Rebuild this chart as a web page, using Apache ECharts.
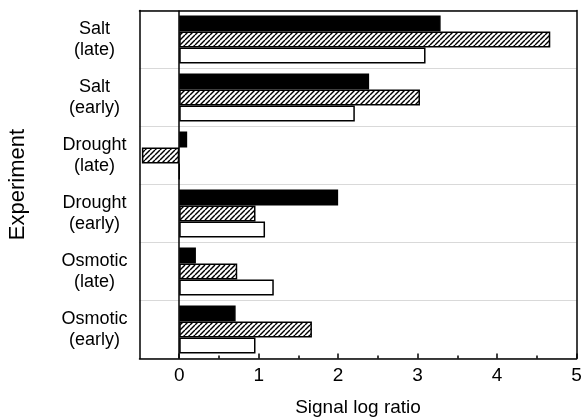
<!DOCTYPE html>
<html>
<head>
<meta charset="utf-8">
<script src="https://cdn.jsdelivr.net/npm/echarts@6/dist/echarts.min.js"></script>
<style>html,body{margin:0;padding:0;background:#fff}#c{width:586px;height:420px}</style>
</head>
<body>
<div id="c"></div>
<script>
// Categories bottom -> top
var categories = ['Osmotic\n(early)', 'Osmotic\n(late)', 'Drought\n(early)', 'Drought\n(late)', 'Salt\n(early)', 'Salt\n(late)'];
var blackValues   = [0.71, 0.21, 2.00, 0.10, 2.39, 3.29];
var hatchedValues = [1.67, 0.73, 0.96, -0.47, 3.03, 4.67];
var whiteValues   = [0.96, 1.19, 1.08, 0.00, 2.21, 3.10];
var majorTicks = [0, 1, 2, 3, 4, 5];
var minorTicks = [0.5, 1.5, 2.5, 3.5, 4.5];

var FONT = '"Liberation Sans", Arial, sans-serif';

function hatch() {
  var s = 5;
  var cv = document.createElement('canvas');
  cv.width = s; cv.height = s;
  var ctx = cv.getContext('2d');
  ctx.fillStyle = '#fff';
  ctx.fillRect(0, 0, s, s);
  ctx.strokeStyle = '#000';
  ctx.lineWidth = 1.4;
  [-s, 0, s].forEach(function (o) {
    ctx.beginPath();
    ctx.moveTo(o, s);
    ctx.lineTo(o + s, 0);
    ctx.stroke();
  });
  return cv;
}

var chart = echarts.init(document.getElementById('c'), null, {renderer: 'canvas'});
var barCommon = {
  type: 'bar',
  barWidth: 16,
  barGap: '0%',
  yAxisIndex: 0,
  xAxisIndex: 0
};
var frameLine = {show: true, onZero: false, lineStyle: {color: '#000', width: 1.5}};
chart.setOption({
  animation: false,
  textStyle: {fontFamily: FONT},
  grid: {
    left: 139.5, right: 9.5, top: 10.5, bottom: 61.5,
    outerBoundsMode: 'none',
    containLabel: false
  },
  xAxis: [{
    type: 'value',
    position: 'bottom',
    min: -0.5, max: 5, interval: 0.5,
    axisLine: frameLine,
    axisTick: {show: true, inside: true, length: 5, customValues: majorTicks, lineStyle: {color: '#000', width: 1.5}},
    axisLabel: {show: true, customValues: majorTicks, color: '#000', fontSize: 19, fontFamily: FONT, margin: 8},
    splitLine: {show: false},
    name: 'Signal log ratio',
    nameLocation: 'middle',
    nameGap: 40,
    nameTextStyle: {color: '#000', fontSize: 19, fontFamily: FONT}
  }, {
    type: 'value',
    position: 'bottom',
    min: -0.5, max: 5, interval: 0.5,
    axisLine: {show: false},
    axisTick: {show: true, inside: true, length: 3, customValues: minorTicks, lineStyle: {color: '#000', width: 1.5}},
    axisLabel: {show: false},
    splitLine: {show: false}
  }, {
    type: 'value',
    position: 'top',
    min: -0.5, max: 5, interval: 0.5,
    axisLine: frameLine,
    axisTick: {show: false},
    axisLabel: {show: false},
    splitLine: {show: false}
  }],
  yAxis: [{
    type: 'category',
    position: 'left',
    data: categories,
    axisLine: frameLine,
    axisTick: {show: false},
    axisLabel: {color: '#000', fontSize: 18, fontFamily: FONT, align: 'center', margin: 45, lineHeight: 21},
    splitLine: {show: true, lineStyle: {color: '#d9d9d9', width: 1}},
    name: 'Experiment',
    nameLocation: 'middle',
    nameRotate: 90,
    nameGap: 111,
    nameTextStyle: {color: '#000', fontSize: 22, fontFamily: FONT}
  }, {
    type: 'category',
    position: 'right',
    data: categories,
    axisLine: frameLine,
    axisTick: {show: false},
    axisLabel: {show: false},
    splitLine: {show: false}
  }],
  series: [
    Object.assign({}, barCommon, {
      name: 'black', data: blackValues,
      itemStyle: {color: '#000', borderColor: '#000', borderWidth: 1.5}
    }),
    Object.assign({}, barCommon, {
      name: 'hatched', data: hatchedValues,
      itemStyle: {color: {image: hatch(), repeat: 'repeat'}, borderColor: '#000', borderWidth: 1.5}
    }),
    Object.assign({}, barCommon, {
      name: 'white', data: whiteValues,
      itemStyle: {color: '#fff', borderColor: '#000', borderWidth: 1.5},
      markLine: {
        silent: true, symbol: 'none', label: {show: false},
        lineStyle: {color: '#000', width: 1.5, type: 'solid'},
        data: [{xAxis: 0}]
      }
    })
  ]
});
</script>
</body>
</html>
